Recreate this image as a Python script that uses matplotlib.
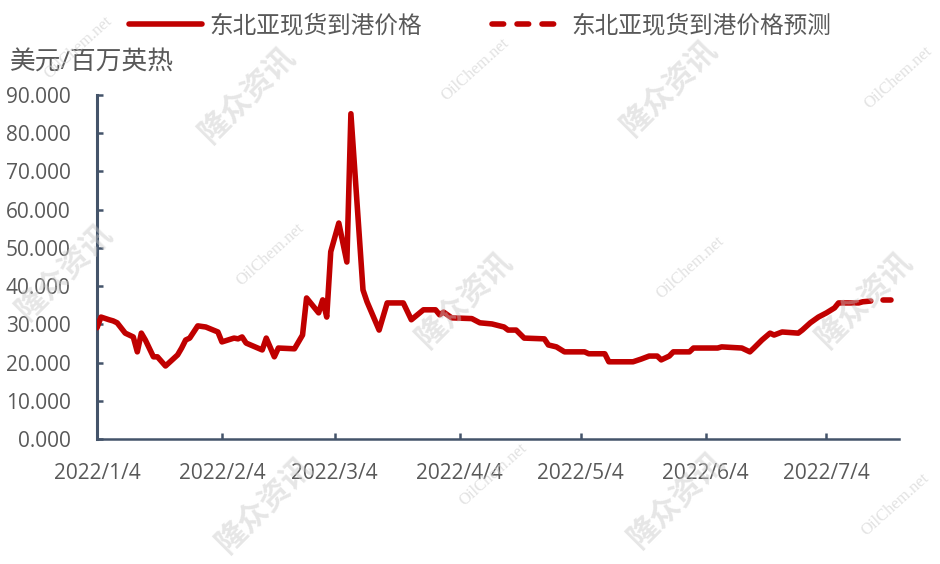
import matplotlib
matplotlib.use("Agg")
import matplotlib.pyplot as plt
import pandas as pd

plt.rcParams['font.family'] = ['Open Sans', 'Noto Sans CJK SC']

# dados (preco spot nordeste asiatico, USD/MMBtu)
datas = ['2022-01-04', '2022-01-05', '2022-01-07', '2022-01-08', '2022-01-09',
         '2022-01-11', '2022-01-13', '2022-01-14', '2022-01-15', '2022-01-16',
         '2022-01-18', '2022-01-19', '2022-01-21', '2022-01-24', '2022-01-25',
         '2022-01-26', '2022-01-27', '2022-01-29', '2022-01-31', '2022-02-03',
         '2022-02-04', '2022-02-07', '2022-02-08', '2022-02-09', '2022-02-10',
         '2022-02-14', '2022-02-15', '2022-02-17', '2022-02-18', '2022-02-22',
         '2022-02-24', '2022-02-25', '2022-02-28', '2022-03-01', '2022-03-02',
         '2022-03-03', '2022-03-05', '2022-03-07', '2022-03-08', '2022-03-11',
         '2022-03-12', '2022-03-15', '2022-03-17', '2022-03-21', '2022-03-23',
         '2022-03-26', '2022-03-29', '2022-03-30', '2022-03-31', '2022-04-02',
         '2022-04-07', '2022-04-09', '2022-04-12', '2022-04-15', '2022-04-16',
         '2022-04-18', '2022-04-20', '2022-04-25', '2022-04-26', '2022-04-28',
         '2022-04-30', '2022-05-05', '2022-05-06', '2022-05-10', '2022-05-11',
         '2022-05-17', '2022-05-19', '2022-05-21', '2022-05-23', '2022-05-24',
         '2022-05-26', '2022-05-27', '2022-05-31', '2022-06-01', '2022-06-07',
         '2022-06-08', '2022-06-13', '2022-06-15', '2022-06-16', '2022-06-18',
         '2022-06-20', '2022-06-21', '2022-06-23', '2022-06-27', '2022-06-28',
         '2022-06-30', '2022-07-02', '2022-07-04', '2022-07-06', '2022-07-07',
         '2022-07-12', '2022-07-13', '2022-07-15']
precos = [29.1, 31.9, 31.2, 30.9, 30.4,
          27.7, 26.7, 22.8, 27.7, 25.9,
          21.5, 21.5, 19.1, 22.0, 23.8,
          25.9, 26.4, 29.6, 29.3, 28.0,
          25.4, 26.4, 26.2, 26.7, 25.1,
          23.3, 26.4, 21.5, 23.8, 23.6,
          27.2, 36.9, 33.0, 36.4, 31.9,
          49.0, 56.5, 46.3, 85.1, 39.0,
          35.9, 28.5, 35.6, 35.6, 31.2,
          33.8, 33.8, 32.5, 33.2, 31.7,
          31.5, 30.4, 30.1, 29.3, 28.5,
          28.5, 26.4, 26.2, 24.6, 24.1,
          22.8, 22.8, 22.3, 22.3, 20.2,
          20.2, 20.9, 21.7, 21.7, 20.7,
          21.7, 22.8, 22.8, 23.8, 23.8,
          24.1, 23.8, 22.8, 23.8, 25.9,
          27.7, 27.2, 28.0, 27.7, 28.5,
          30.4, 31.9, 33.0, 34.3, 35.6,
          35.6, 35.9, 36.1]

datas_previsao = ['2022-07-18', '2022-07-20']
precos_previsao = [36.3, 36.3]

serie_real = '东北亚现货到港价格'
serie_previsao = '东北亚现货到港价格预测'
unidade = '美元/百万英热'

ticks_x = ['2022-01-04', '2022-02-04', '2022-03-04', '2022-04-04',
           '2022-05-04', '2022-06-04', '2022-07-04']
ticks_y = [0, 10, 20, 30, 40, 50, 60, 70, 80, 90]

vermelho = '#C00000'
eixo = '#44546A'
cinza = '#595959'

fig = plt.figure(figsize=(9.4, 5.64), dpi=100)
ax = fig.add_axes([97 / 940, 1 - 439 / 564, 802 / 940, 344 / 564])

ax.plot(pd.to_datetime(datas), precos, color=vermelho, lw=4,
        solid_capstyle='round', solid_joinstyle='round', label=serie_real, zorder=3)
ax.plot(pd.to_datetime(datas_previsao), precos_previsao, color=vermelho, lw=4,
        dashes=(2.1, 2.4), dash_capstyle='round', label=serie_previsao, zorder=3)

ax.set_xlim(pd.Timestamp('2022-01-04'), pd.Timestamp('2022-07-22'))
ax.set_ylim(0, 90)

tx = pd.to_datetime(ticks_x)
ax.set_xticks(tx)
ax.set_xticklabels([f'{d.year}/{d.month}/{d.day}' for d in tx])
ax.set_yticks(ticks_y)
ax.set_yticklabels([f'{v:.3f}' for v in ticks_y])

for s in ['top', 'right']:
    ax.spines[s].set_visible(False)
ax.spines['left'].set_color(eixo)
ax.spines['left'].set_linewidth(2.2)
ax.spines['bottom'].set_color(eixo)
ax.spines['bottom'].set_linewidth(1.8)

ax.tick_params(axis='both', direction='in', length=4, width=1.8, color=eixo,
               labelcolor=cinza, labelsize=15)
ax.tick_params(axis='y', pad=19)
ax.tick_params(axis='x', pad=17)

# unidade no canto superior esquerdo
fig.text(10 / 940, 1 - 63 / 564, unidade, ha='left', va='center',
         fontsize=18.5, color=cinza)

leg = fig.legend(loc='center left', bbox_to_anchor=(129 / 940, 1 - 26 / 564),
                 ncol=2, frameon=False, fontsize=17, handlelength=3.1,
                 handletextpad=0.3, columnspacing=2.95, borderpad=0, borderaxespad=0)
for t in leg.get_texts():
    t.set_color(cinza)

# marcas d'agua
wm_cn = [(248, 95), (65, 272), (465, 300), (670, 88), (865, 300), (265, 505), (677, 500)]
wm_en = [(78, 48), (475, 70), (270, 255), (690, 268), (898, 78), (493, 475), (895, 505)]
for x, y in wm_cn:
    fig.text(x / 940, 1 - y / 564, '隆众资讯', ha='center', va='center', rotation=45,
             fontsize=22, fontweight='bold', color='#c8c8c8', alpha=0.45, zorder=5)
for x, y in wm_en:
    fig.text(x / 940, 1 - y / 564, 'OilChem.net', ha='center', va='center', rotation=42,
             fontsize=12, family='Liberation Serif', color='#cfcfcf', alpha=0.6, zorder=5)

fig.savefig('out.png', dpi=100)
